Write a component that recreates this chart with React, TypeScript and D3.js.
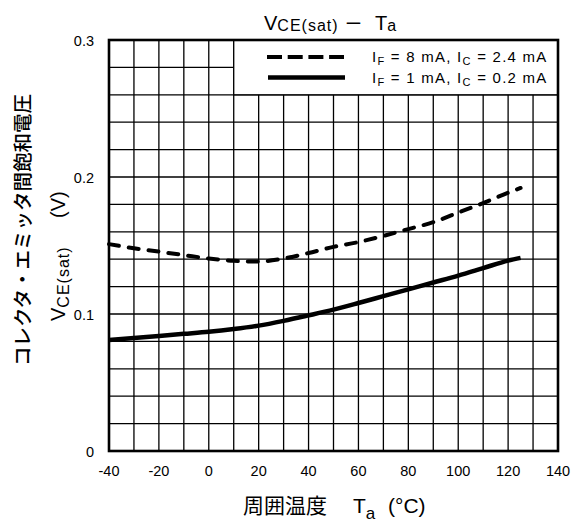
import React, { useRef, useEffect } from "react";
import * as d3 from "d3";

// Ta (°C) sample points shared by both curves
const temps = [-40, -30, -20, -10, 0, 10, 20, 30, 40, 50, 60, 70, 80, 90, 100, 110, 120, 125];
// IF = 8 mA, IC = 2.4 mA (dashed)
const vceHigh = [0.151, 0.148, 0.1455, 0.143, 0.1405, 0.1388, 0.1383, 0.1405, 0.1445, 0.149, 0.1525, 0.157, 0.162, 0.167, 0.174, 0.181, 0.1885, 0.192];
// IF = 1 mA, IC = 0.2 mA (solid)
const vceLow = [0.081, 0.0825, 0.084, 0.0855, 0.087, 0.089, 0.0915, 0.095, 0.099, 0.1032, 0.108, 0.113, 0.118, 0.123, 0.128, 0.1335, 0.139, 0.141];

const xTickLabels = [-40, -20, 0, 20, 40, 60, 80, 100, 120, 140];
const yTickLabels = [0, 0.1, 0.2, 0.3];

const LATIN = "'Liberation Sans', Arial, sans-serif";
const CJK = "'Noto Sans CJK JP', sans-serif";

export default function App() {
  const ref = useRef<SVGSVGElement>(null);

  useEffect(() => {
    if (!ref.current) return;
    const svg = d3.select(ref.current);
    svg.selectAll("*").remove();

    const x = d3.scaleLinear().domain([-40, 140]).range([109, 558]);
    const y = d3.scaleLinear().domain([0, 0.3]).range([451, 40]);

    const g = svg.append("g");

    // grid
    const xs = d3.range(-40, 141, 10);
    const ys = d3.range(0, 0.3001, 0.02);
    g.selectAll(".vx")
      .data(xs)
      .enter()
      .append("line")
      .attr("x1", (d) => x(d))
      .attr("x2", (d) => x(d))
      .attr("y1", y(0))
      .attr("y2", y(0.3))
      .attr("stroke", "#000")
      .attr("stroke-width", 1.3);
    g.selectAll(".hy")
      .data(ys)
      .enter()
      .append("line")
      .attr("x1", x(-40))
      .attr("x2", x(140))
      .attr("y1", (d) => y(d))
      .attr("y2", (d) => y(d))
      .attr("stroke", "#000")
      .attr("stroke-width", 1.3);

    // legend box (covers grid top-right)
    g.append("rect")
      .attr("x", x(10))
      .attr("y", y(0.3))
      .attr("width", x(140) - x(10))
      .attr("height", y(0.26) - y(0.3))
      .attr("fill", "#fff")
      .attr("stroke", "#000")
      .attr("stroke-width", 1.3);

    // frame
    g.append("rect")
      .attr("x", x(-40))
      .attr("y", y(0.3))
      .attr("width", x(140) - x(-40))
      .attr("height", y(0) - y(0.3))
      .attr("fill", "none")
      .attr("stroke", "#000")
      .attr("stroke-width", 2.6);

    const line = d3
      .line<number>()
      .x((_, i) => x(temps[i]))
      .y((d) => y(d))
      .curve(d3.curveMonotoneX);

    g.append("path")
      .datum(vceHigh)
      .attr("d", line)
      .attr("fill", "none")
      .attr("stroke", "#000")
      .attr("stroke-width", 4)
      .attr("stroke-linecap", "round")
      .attr("stroke-dasharray", "10,10");

    g.append("path")
      .datum(vceLow)
      .attr("d", line)
      .attr("fill", "none")
      .attr("stroke", "#000")
      .attr("stroke-width", 4.5);

    // tick labels
    g.selectAll(".xl")
      .data(xTickLabels)
      .enter()
      .append("text")
      .attr("x", (d) => x(d))
      .attr("y", 476)
      .attr("text-anchor", "middle")
      .attr("font-family", LATIN)
      .attr("font-size", 14.5)
      .text((d) => d);
    g.selectAll(".yl")
      .data(yTickLabels)
      .enter()
      .append("text")
      .attr("x", 94)
      .attr("y", (d) => y(d) + 5.5)
      .attr("text-anchor", "end")
      .attr("font-family", LATIN)
      .attr("font-size", 14.5)
      .text((d) => d);

    // legend
    const lg = g.append("g");
    lg.append("line")
      .attr("x1", 267).attr("x2", 344).attr("y1", 57).attr("y2", 57)
      .attr("stroke", "#000").attr("stroke-width", 4)
      .attr("stroke-dasharray", "15,5.7");
    lg.append("line")
      .attr("x1", 268).attr("x2", 345).attr("y1", 77.5).attr("y2", 77.5)
      .attr("stroke", "#000").attr("stroke-width", 4.5);
    const legendRows = [
      { f: "8", c: "2.4", y: 62 },
      { f: "1", c: "0.2", y: 82.5 },
    ];
    legendRows.forEach((r) => {
      const t = lg.append("text")
        .attr("x", 372).attr("y", r.y)
        .attr("font-family", LATIN).attr("font-size", 15)
        .attr("letter-spacing", 1.25);
      t.append("tspan").text("I");
      t.append("tspan").attr("font-size", 11).attr("dy", 3).text("F");
      t.append("tspan").attr("dy", -3).text(` = ${r.f} mA, I`);
      t.append("tspan").attr("font-size", 11).attr("dy", 3).text("C");
      t.append("tspan").attr("dy", -3).text(` = ${r.c} mA`);
    });

    // title
    const title = g.append("text").attr("y", 29.5).attr("font-family", LATIN).attr("font-size", 20);
    title.append("tspan").attr("x", 264).text("V");
    title.append("tspan").attr("font-size", 16).attr("letter-spacing", 1).attr("dy", 1.5).text("CE(sat)");
    title.append("tspan").attr("x", 345).attr("font-family", CJK).attr("font-size", 17).attr("dy", -1.5).text("ー");
    title.append("tspan").attr("x", 375).text("T");
    title.append("tspan").attr("font-size", 16).attr("dy", 1).text("a");

    // x axis title
    const xt = g.append("text").attr("y", 513).attr("font-size", 21);
    xt.append("tspan").attr("x", 243).attr("font-family", CJK).text("周囲温度");
    xt.append("tspan").attr("x", 353).attr("font-family", LATIN).text("T");
    xt.append("tspan").attr("font-family", LATIN).attr("font-size", 17).attr("dy", 6).text("a");
    xt.append("tspan").attr("x", 388).attr("dy", -6).attr("font-family", LATIN).text("(°C)");

    // y axis title (rotated)
    g.append("text")
      .attr("transform", "rotate(-90)")
      .attr("x", -230)
      .attr("y", 30)
      .attr("text-anchor", "middle")
      .attr("font-family", CJK)
      .attr("font-size", 19.5)
      .attr("font-weight", 500)
      .text("コレクタ・エミッタ間飽和電圧");

    const yt = g.append("text")
      .attr("transform", "rotate(-90)")
      .attr("x", -321)
      .attr("y", 65)
      .attr("font-family", LATIN)
      .attr("font-size", 20);
    yt.append("tspan").text("V");
    yt.append("tspan").attr("font-size", 16).attr("letter-spacing", 1).attr("dy", 4).text("CE(sat)");
    yt.append("tspan").attr("x", -218).attr("dy", -4).text("(V)");
  }, []);

  return (
    <div style={{ position: "absolute", left: 0, top: 0 }}>
      <svg ref={ref} width={576} height={522} style={{ display: "block", background: "#fff" }} />
    </div>
  );
}
